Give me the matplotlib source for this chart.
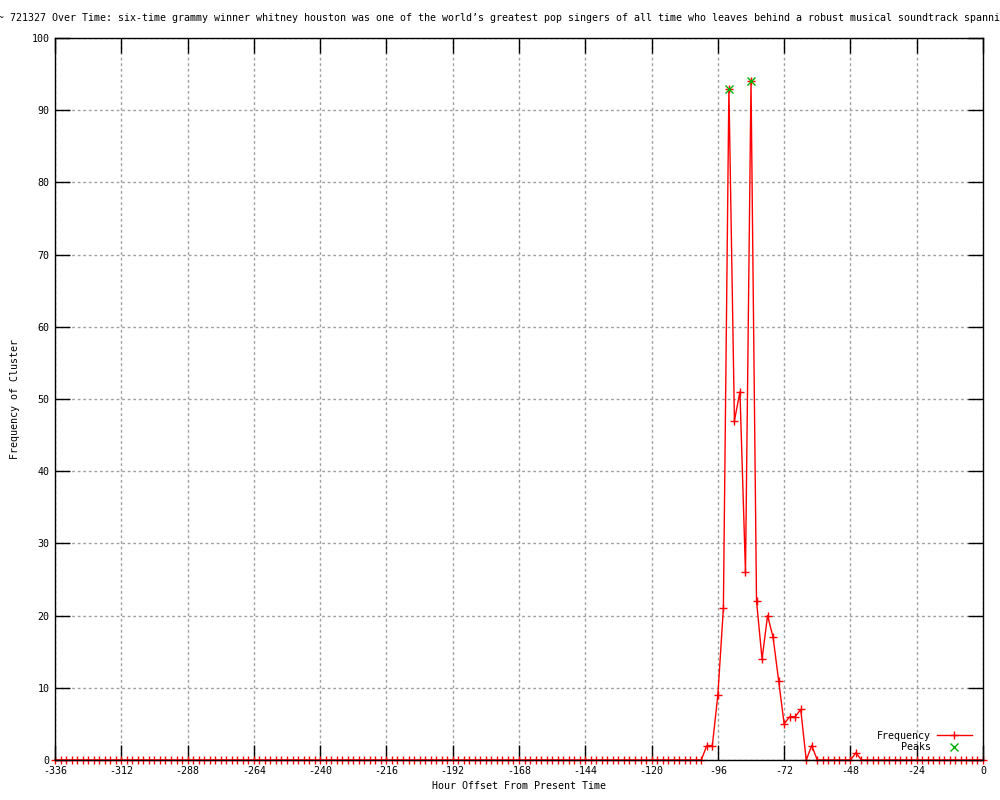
"""Cluster frequency over time, gnuplot-style line chart."""

import numpy as np
import matplotlib

matplotlib.use("Agg")
import matplotlib.pyplot as plt

TITLE = ("~ 721327 Over Time: six-time grammy winner whitney houston was one of "
         "the world\u2019s greatest pop singers of all time who leaves behind a "
         "robust musical soundtrack spanni")

# hour offsets, one sample every 2 hours
hours = np.arange(-336, 1, 2)
counts = ([0] * 118
          + [2, 2, 9, 21, 93, 47, 51, 26, 94, 22, 14, 20, 17, 11, 5, 6, 6, 7, 0, 2, 0]
          + [0] * 6 + [1] + [0] * 23)

peak_hours = [-92, -84]
peak_counts = [93, 94]

x_ticks = list(range(-336, 1, 24))
y_ticks = list(range(0, 101, 10))

plt.rcParams["font.family"] = ["DejaVu Sans Mono"]
plt.rcParams["font.size"] = 7.2
plt.rcParams["axes.unicode_minus"] = False

fig = plt.figure(figsize=(10, 8), dpi=100)
ax = fig.add_axes([0.055, 0.05, 0.928, 0.9025])

ax.plot(hours, counts, color="red", linewidth=1, marker="+", markersize=6,
        markeredgewidth=1, label="Frequency", clip_on=False, zorder=2)
ax.plot(peak_hours, peak_counts, linestyle="none", color="#00b000", marker="x",
        markersize=5.5, markeredgewidth=1, label="Peaks", zorder=4)

ax.set_xlim(-336, 0)
ax.set_ylim(0, 100)
ax.set_xticks(x_ticks)
ax.set_yticks(y_ticks)
ax.tick_params(axis="both", direction="in", top=True, right=True,
               length=11, width=1, pad=4)
ax.grid(True, color="#a0a0a0", linestyle=(0, (2, 2)), linewidth=1)
ax.set_axisbelow(True)
for spine in ax.spines.values():
    spine.set_linewidth(1)

ax.set_xlabel("Hour Offset From Present Time", labelpad=4)
ax.set_ylabel("Frequency of Cluster", labelpad=8)

fig.text(-0.002, 0.977, TITLE, ha="left", va="center", fontsize=7.2)

ax.legend(loc="lower right", bbox_to_anchor=(0.992, 0.005), frameon=False,
          markerfirst=False, handlelength=3.5, handletextpad=0.6,
          labelspacing=0.15, borderaxespad=0)

fig.savefig("out.png", dpi=100)
plt.close(fig)
